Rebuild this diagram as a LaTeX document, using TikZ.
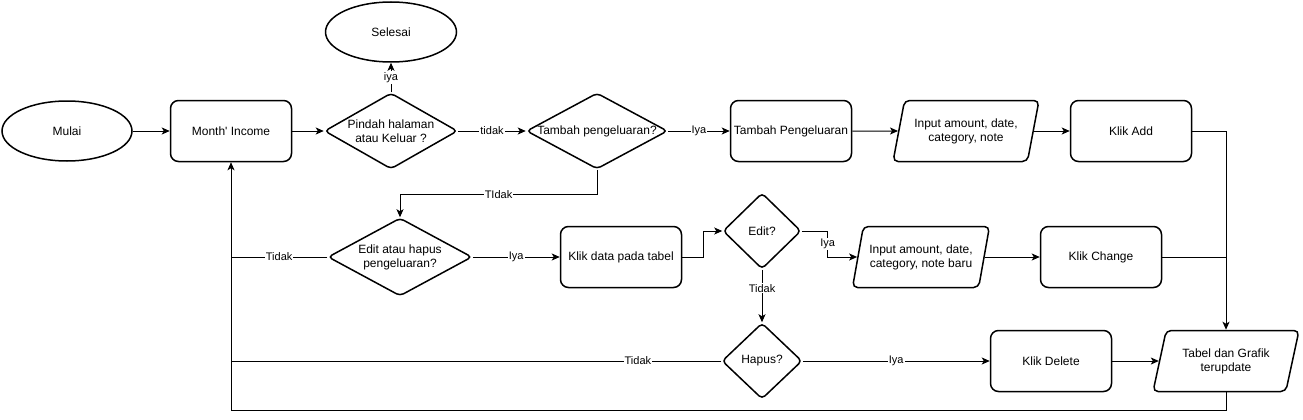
\documentclass[tikz,border=0pt]{standalone}
\usepackage{fontspec}
\setmainfont{Liberation Sans}
\usetikzlibrary{arrows.meta}
\usetikzlibrary{shapes.geometric}

\begin{document}
\begin{tikzpicture}[x=1pt, y=-1pt,
    every node/.style={font=\fontsize{12}{14}\selectfont, align=center},
    terminal/.style={ellipse, draw, line width=1.5pt, minimum width=130pt, minimum height=60pt},
    process/.style={rectangle, draw, line width=1.5pt, rounded corners=8pt, minimum width=121pt, minimum height=61pt},
    decision/.style={diamond, draw, line width=1.5pt, rounded corners=4pt, inner sep=0pt},
    inout/.style={trapezium, trapezium left angle=72, trapezium right angle=108, trapezium stretches=true,
      draw, line width=1.5pt, rounded corners=5pt, minimum width=146pt, minimum height=61pt},
    flow/.style={line width=1pt, -{Stealth[length=8pt, width=7pt, inset=2pt]}},
    link/.style={line width=1pt},
    lbl/.style={fill=white, inner sep=1pt, font=\fontsize{11}{12}\selectfont}]
    \useasboundingbox (0,0) rectangle (1303,420);

    \node[terminal] (mulai) at (67,131) {Mulai};
    \node[process] (income) at (231,131) {Month\textquotesingle{} Income};
    \node[decision, aspect=1.75, minimum width=133pt, minimum height=76pt] (pindah) at (391,131) {Pindah halaman\\atau Keluar ?};
    \node[terminal, minimum width=131pt] (selesai) at (391,32) {Selesai};
    \node[decision, aspect=1.86, minimum width=141pt, minimum height=76pt] (tambahq) at (597,131) {Tambah pengeluaran?};
    \node[process] (tambah) at (791,131) {Tambah Pengeluaran};
    \node[inout] (inputadd) at (966,131) {Input amount, date,\\category, note};
    \node[process] (klikadd) at (1131,131) {Klik Add};

    \node[decision, aspect=1.85, minimum width=144pt, minimum height=78pt] (edithapus) at (400,257) {Edit atau hapus\\pengeluaran?};
    \node[process] (klikdata) at (621,257) {Klik data pada tabel};
    \node[decision, aspect=1, minimum width=78pt, minimum height=76pt] (editq) at (762,231) {Edit?};
    \node[inout, minimum width=137pt] (inputedit) at (921,257) {Input amount, date,\\category, note baru};
    \node[process] (klikchange) at (1101,257) {Klik Change};

    \node[decision, aspect=1, minimum width=80pt, minimum height=76pt] (hapusq) at (762,361) {Hapus?};
    \node[process] (klikdelete) at (1051,361) {Klik Delete};
    \node[inout] (tabel) at (1226,361) {Tabel dan Grafik\\terupdate};

    \draw[flow] (mulai.east) -- (income.west);
    \draw[flow] (income.east) -- (pindah.west);
    \draw[flow] (pindah.north) -- node[lbl] {iya} (selesai.south);
    \draw[flow] (pindah.east) -- node[lbl] {tidak} (tambahq.west);
    \draw[flow] (tambahq.east) -- node[lbl] {Iya} (tambah.west);
    \draw[flow] (tambah.east) -- (inputadd.west);
    \draw[flow] (inputadd.east) -- (inputadd.east -| klikadd.west);
    \draw[flow] (klikadd.east) -| (tabel.north);
    \draw[flow] (tambahq.south) -- ++(0,25) -| node[lbl, pos=0.25] {TIdak} (edithapus.north);

    \draw[link] (edithapus.west) -- node[lbl] {Tidak} (edithapus.west -| income.south);
    \draw[flow] (edithapus.east) -- node[lbl] {Iya} (klikdata.west);
    \draw[flow] (klikdata.east) -- ++(21,0) |- (editq.west);
    \draw[flow] (editq.east) -- ++(26,0) |- node[lbl, pos=0.25] {Iya} (inputedit.west);
    \draw[flow] (inputedit.east) -- (inputedit.east -| klikchange.west);
    \draw[link] (klikchange.east) -- (klikchange.east -| tabel.north);
    \draw[flow] (editq.south) -- node[lbl, pos=0.35] {Tidak} (hapusq.north);

    \draw[link] (hapusq.west) -- node[lbl, pos=0.17] {Tidak} (hapusq.west -| income.south);
    \draw[flow] (hapusq.east) -- node[lbl] {Iya} (klikdelete.west);
    \draw[flow] (klikdelete.east) -- (klikdelete.east -| tabel.west);
    \draw[flow] (tabel.south) -- ++(0,18) -| (income.south);
\end{tikzpicture}
\end{document}
